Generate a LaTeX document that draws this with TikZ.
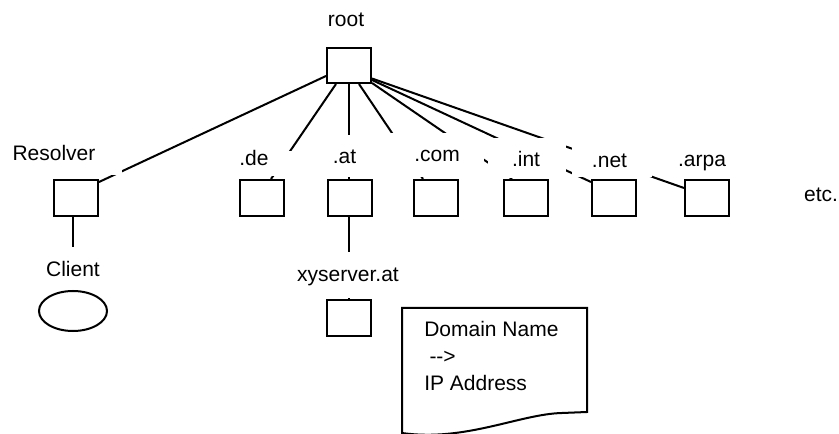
\documentclass[tikz,border=0pt]{standalone}
\usepackage{fontspec}
\setmainfont{Liberation Sans}
\usetikzlibrary{calc,shapes.geometric}
\begin{document}
\begin{tikzpicture}[x=1bp,y=-1bp,line width=2bp,
  srv/.style={draw,fill=white,minimum width=44bp,minimum height=36bp,inner sep=0pt},
  lbl/.style={inner sep=0pt,anchor=base,font=\fontsize{21bp}{25bp}\selectfont},
  mask/.style={fill=white},
  link/.style={draw}]
\useasboundingbox (0,0) rectangle (839,434);

% name servers
\node[srv,minimum height=35bp] (root) at (349,65.5) {};
\node[srv] (res)  at (76,198)  {};
\node[srv] (de)   at (262,198) {};
\node[srv] (at)   at (350,198) {};
\node[srv] (com)  at (436,198) {};
\node[srv] (int)  at (526,198) {};
\node[srv] (net)  at (614,198) {};
\node[srv] (arpa) at (707,198) {};
\node[srv] (xy)   at (349,318) {};

% links from the root
\draw[link] ($(root.south west)+(0,-8)$) -- ($(res.north east)+(0,3)$);
\draw[link] ($(root.south west)+(10,0)$) -- ($(de.north west)+(32,0)$);
\draw[link] (root.south) -- ($(at.north)+(-1,0)$);
\draw[link] ($(root.south west)+(33,0)$) -- ($(com.north west)+(10,0)$);
\draw[link] ($(root.south east)+(0,-1)$) -- ($(int.north west)+(9,0)$);
\draw[link] ($(root.south east)+(0,-4)$) -- ($(net.north west)+(0,3)$);
\draw[link] ($(root.south east)+(0,-5.5)$) -- ($(arpa.north west)+(0,9)$);
% .at to its server
\draw[link] (at.south -| xy.north) -- (xy.north);

% text areas of the labels
\fill[mask] (0,135) rectangle (122,175);
\fill[mask] (225,151) rectangle (300,176);
\fill[mask] (310,135) rectangle (385,177);
\fill[mask] (388,133) rectangle (484,177.5);
\fill[mask] (488,138) rectangle (566,178);
\fill[mask] (572,138) rectangle (652,177);
\fill[mask] (290,252) rectangle (405,298);

% client and its link to the resolver
\node[draw,ellipse,minimum width=68bp,minimum height=40bp,inner sep=0pt] (cli) at (73,311) {};
\coordinate (cliend) at (73,247);
\draw[link] (res.south -| cli.north) -- (cliend);

% labels
\node[lbl] (lroot) at (346,26.5) {root};
\node[lbl] (lres)  at (54,160.7) {Resolver};
\node[lbl] (lcli)  at (73,276.7) {Client};
\node[lbl] (lde)   at (254,166) {.de};
\node[lbl] (lat)   at (344.5,164) {.at};
\node[lbl] (lcom)  at (437,162) {.com};
\node[lbl] (lint)  at (526,167) {.int};
\node[lbl] (lnet)  at (609.5,168) {.net};
\node[lbl] (larpa) at (702,166.7) {.arpa};
\node[lbl] (letc)  at (821,201.5) {etc.};
\node[lbl] (lxy)   at (348,281.7) {xyserver.at};

% lookup table note
\draw (402,308) -- (587,308) -- (587,412) -- (562,413)
  .. controls (520,414) and (465,442) .. (402,433) -- cycle;
\node[lbl,anchor=base west] (dn1) at (423.3,336.7) {Domain Name};
\node[lbl,anchor=base west] (dn2) at (428.5,363.3) {\mbox{-}\mbox{-}\mbox{>}};
\node[lbl,anchor=base west] (dn3) at (423.3,390) {IP Address};
\end{tikzpicture}
\end{document}
